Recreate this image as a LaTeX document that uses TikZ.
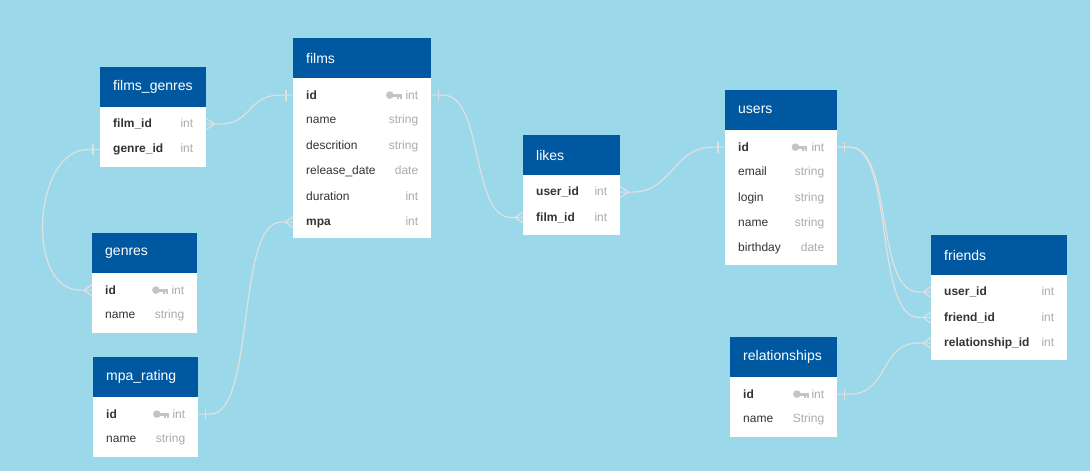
\documentclass[tikz,border=0pt]{standalone}
\usepackage{fontspec}
\setmainfont{Liberation Sans}
\usetikzlibrary{positioning}

\definecolor{bgblue}{HTML}{9BD8EA}
\definecolor{headblue}{HTML}{0059A0}
\definecolor{rowtext}{HTML}{333333}
\definecolor{typegray}{HTML}{ABABAB}
\definecolor{keygray}{HTML}{C4C4C4}
\definecolor{linegray}{HTML}{E0E0E0}

\newcommand{\keyfield}[1]{\textbf{#1}}
\newcommand{\fieldtype}[1]{\textcolor{typegray}{#1}}

\begin{document}
\begin{tikzpicture}[x=1pt, y=-1pt,
    tabhead/.style={fill=headblue, text=white, font=\fontsize{14}{16}\selectfont,
                    minimum height=40pt, inner xsep=13pt, inner ysep=0pt, anchor=north west},
    tabrow/.style={text=rowtext, font=\fontsize{12}{14}\selectfont,
                   minimum height=25pt, inner xsep=13pt, inner ysep=0pt},
    rel/.style={draw=linegray, line width=1.2pt},
    pics/barmark/.style={code={\draw[rel] (#1*7,-5.5) -- (#1*7,5.5);}},
    pics/crowmark/.style={code={\draw[rel] (#1*8,0) -- (0,-5.5) (#1*8,0) -- (0,5.5);}},
    pics/keyicon/.style={code={
        \fill[keygray] (0,0) circle (3.8pt);
        \fill[keygray] (2,-1.6) rectangle (12,1.6);
        \fill[keygray] (7,1.6) rectangle (9,3.4);
        \fill[keygray] (10,1.6) rectangle (12,3.4);}}]

  \fill[bgblue] (0,0) rectangle (1090,471);
  \useasboundingbox (0,0) rectangle (1090,471);

  % films_genres
  \begin{scope}[every node/.append style={text width=80pt}]
    \node[tabhead] (fgHd) at (100,67) {films\_genres};
    \fill[white] (fgHd.south west) rectangle ++(106,60);
    \node[tabrow, anchor=north west] (fgFilm) at ([yshift=-4pt]fgHd.south west) {\keyfield{film\_id}\hfill\fieldtype{int}};
    \node[tabrow, below=0pt of fgFilm] (fgGenre) {\keyfield{genre\_id}\hfill\fieldtype{int}};
  \end{scope}

  % films
  \begin{scope}[every node/.append style={text width=112pt}]
    \node[tabhead] (filmsHd) at (293,38) {films};
    \fill[white] (filmsHd.south west) rectangle ++(138,160);
    \node[tabrow, anchor=north west] (filmsId) at ([yshift=-4pt]filmsHd.south west) {\keyfield{id}\hfill\fieldtype{int}};
    \node[tabrow, below=0pt of filmsId] (filmsName) {name\hfill\fieldtype{string}};
    \node[tabrow, below=0pt of filmsName] (filmsDesc) {descrition\hfill\fieldtype{string}};
    \node[tabrow, below=0pt of filmsDesc] (filmsDate) {release\_date\hfill\fieldtype{date}};
    \node[tabrow, below=0pt of filmsDate] (filmsDur) {duration\hfill\fieldtype{int}};
    \node[tabrow, below=0pt of filmsDur] (filmsMpa) {\keyfield{mpa}\hfill\fieldtype{int}};
  \end{scope}
  \pic at ([xshift=-41.5pt]filmsId.east) {keyicon};

  % genres
  \begin{scope}[every node/.append style={text width=79pt}]
    \node[tabhead] (genresHd) at (92,233) {genres};
    \fill[white] (genresHd.south west) rectangle ++(105,60);
    \node[tabrow, anchor=north west] (genresId) at ([yshift=-4pt]genresHd.south west) {\keyfield{id}\hfill\fieldtype{int}};
    \node[tabrow, below=0pt of genresId] (genresName) {name\hfill\fieldtype{string}};
  \end{scope}
  \pic at ([xshift=-41.5pt]genresId.east) {keyicon};

  % mpa_rating
  \begin{scope}[every node/.append style={text width=79pt}]
    \node[tabhead] (mpaHd) at (93,357) {mpa\_rating};
    \fill[white] (mpaHd.south west) rectangle ++(105,60);
    \node[tabrow, anchor=north west] (mpaId) at ([yshift=-4pt]mpaHd.south west) {\keyfield{id}\hfill\fieldtype{int}};
    \node[tabrow, below=0pt of mpaId] (mpaName) {name\hfill\fieldtype{string}};
  \end{scope}
  \pic at ([xshift=-41.5pt]mpaId.east) {keyicon};

  % likes
  \begin{scope}[every node/.append style={text width=71pt}]
    \node[tabhead] (likesHd) at (523,135) {likes};
    \fill[white] (likesHd.south west) rectangle ++(97,60);
    \node[tabrow, anchor=north west] (likesUser) at ([yshift=-4pt]likesHd.south west) {\keyfield{user\_id}\hfill\fieldtype{int}};
    \node[tabrow, below=0pt of likesUser] (likesFilm) {\keyfield{film\_id}\hfill\fieldtype{int}};
  \end{scope}

  % users
  \begin{scope}[every node/.append style={text width=86pt}]
    \node[tabhead] (usersHd) at (725,90) {users};
    \fill[white] (usersHd.south west) rectangle ++(112,135);
    \node[tabrow, anchor=north west] (usersId) at ([yshift=-4pt]usersHd.south west) {\keyfield{id}\hfill\fieldtype{int}};
    \node[tabrow, below=0pt of usersId] (usersEmail) {email\hfill\fieldtype{string}};
    \node[tabrow, below=0pt of usersEmail] (usersLogin) {login\hfill\fieldtype{string}};
    \node[tabrow, below=0pt of usersLogin] (usersName) {name\hfill\fieldtype{string}};
    \node[tabrow, below=0pt of usersName] (usersBirth) {birthday\hfill\fieldtype{date}};
  \end{scope}
  \pic at ([xshift=-42pt]usersId.east) {keyicon};

  % friends
  \begin{scope}[every node/.append style={text width=110pt}]
    \node[tabhead] (friendsHd) at (931,235) {friends};
    \fill[white] (friendsHd.south west) rectangle ++(136,85);
    \node[tabrow, anchor=north west] (friendsUser) at ([yshift=-4pt]friendsHd.south west) {\keyfield{user\_id}\hfill\fieldtype{int}};
    \node[tabrow, below=0pt of friendsUser] (friendsFriend) {\keyfield{friend\_id}\hfill\fieldtype{int}};
    \node[tabrow, below=0pt of friendsFriend] (friendsRel) {\keyfield{relationship\_id}\hfill\fieldtype{int}};
  \end{scope}

  % relationships
  \begin{scope}[every node/.append style={text width=81pt}]
    \node[tabhead] (relHd) at (730,337) {relationships};
    \fill[white] (relHd.south west) rectangle ++(107,60);
    \node[tabrow, anchor=north west] (relId) at ([yshift=-4pt]relHd.south west) {\keyfield{id}\hfill\fieldtype{int}};
    \node[tabrow, below=0pt of relId] (relName) {name\hfill\fieldtype{String}};
  \end{scope}
  \pic at ([xshift=-40.5pt]relId.east) {keyicon};

  % relations
  \draw[rel] (fgFilm.east) -- ++(12,0) .. controls +(35,0) and +(-35,0) .. ([xshift=-12pt]filmsId.west) -- (filmsId.west);
  \pic at (fgFilm.east) {crowmark=1};
  \pic at (filmsId.west) {barmark=-1};

  \draw[rel] (fgGenre.west) -- ++(-12,0) .. controls +(-55,0) and +(-55,0) .. ([xshift=-12pt]genresId.west) -- (genresId.west);
  \pic at (fgGenre.west) {barmark=-1};
  \pic at (genresId.west) {crowmark=-1};

  \draw[rel] (mpaId.east) -- ++(12,0) .. controls +(45,0) and +(-45,0) .. ([xshift=-12pt]filmsMpa.west) -- (filmsMpa.west);
  \pic at (mpaId.east) {barmark=1};
  \pic at (filmsMpa.west) {crowmark=-1};

  \draw[rel] (filmsId.east) -- ++(12,0) .. controls +(40,0) and +(-40,0) .. ([xshift=-12pt]likesFilm.west) -- (likesFilm.west);
  \pic at (filmsId.east) {barmark=1};
  \pic at (likesFilm.west) {crowmark=-1};

  \draw[rel] (likesUser.east) -- ++(12,0) .. controls +(40,0) and +(-40,0) .. ([xshift=-12pt]usersId.west) -- (usersId.west);
  \pic at (likesUser.east) {crowmark=1};
  \pic at (usersId.west) {barmark=-1};

  \draw[rel] (usersId.east) -- ++(12,0) .. controls +(45,0) and +(-45,0) .. ([xshift=-12pt]friendsUser.west) -- (friendsUser.west);
  \draw[rel] (usersId.east) -- ++(12,0) .. controls +(45,0) and +(-45,0) .. ([xshift=-12pt]friendsFriend.west) -- (friendsFriend.west);
  \pic at (usersId.east) {barmark=1};
  \pic at (friendsUser.west) {crowmark=-1};
  \pic at (friendsFriend.west) {crowmark=-1};

  \draw[rel] (relId.east) -- ++(12,0) .. controls +(40,0) and +(-40,0) .. ([xshift=-12pt]friendsRel.west) -- (friendsRel.west);
  \pic at (relId.east) {barmark=1};
  \pic at (friendsRel.west) {crowmark=-1};

\end{tikzpicture}
\end{document}
